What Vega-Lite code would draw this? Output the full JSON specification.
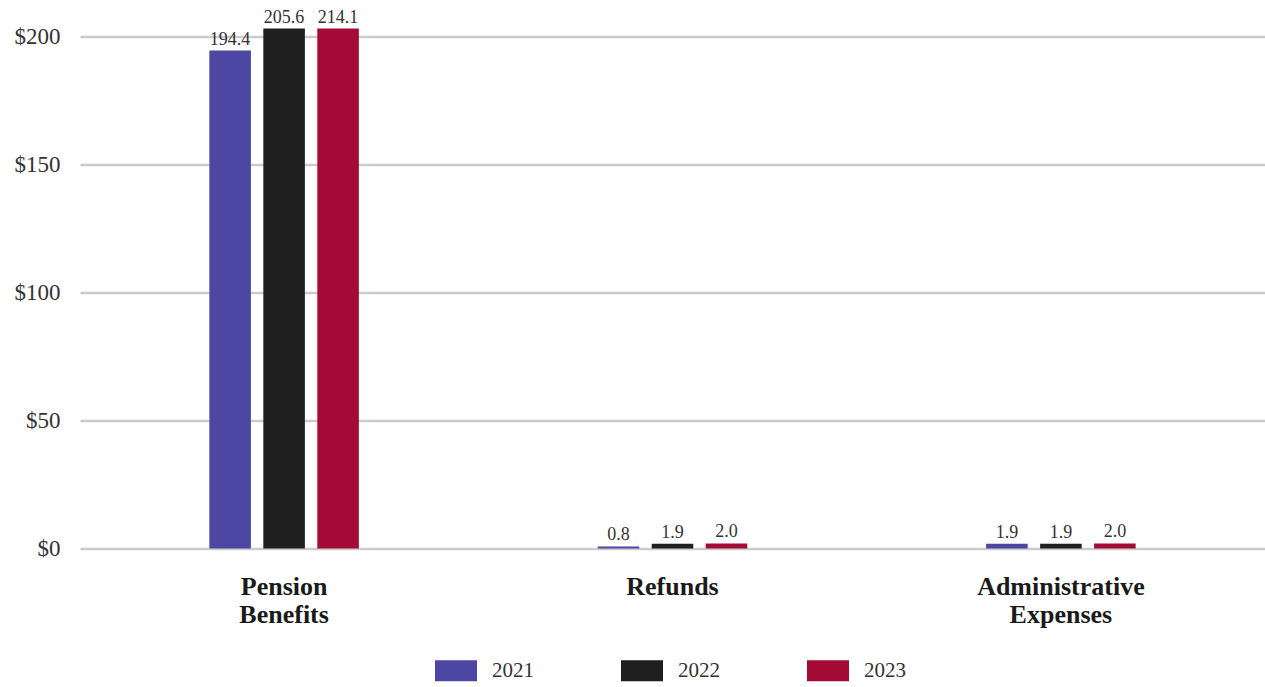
{
  "$schema": "https://vega.github.io/schema/vega-lite/v6.json",
  "autosize": {"type": "none"},
  "width": 1185,
  "height": 520,
  "padding": {"left": 80, "top": 28.5, "right": 0, "bottom": 138.5},
  "background": "white",
  "config": {
    "font": "Liberation Serif",
    "view": {"stroke": null}
  },
  "data": {
    "values": [
      {"category": "Pension Benefits", "year": "2021", "value": 194.4},
      {"category": "Pension Benefits", "year": "2022", "value": 205.6},
      {"category": "Pension Benefits", "year": "2023", "value": 214.1},
      {"category": "Refunds", "year": "2021", "value": 0.8},
      {"category": "Refunds", "year": "2022", "value": 1.9},
      {"category": "Refunds", "year": "2023", "value": 2.0},
      {"category": "Administrative Expenses", "year": "2021", "value": 1.9},
      {"category": "Administrative Expenses", "year": "2022", "value": 1.9},
      {"category": "Administrative Expenses", "year": "2023", "value": 2.0}
    ]
  },
  "encoding": {
    "x": {
      "field": "category",
      "type": "nominal",
      "sort": ["Pension Benefits", "Refunds", "Administrative Expenses"],
      "scale": {"paddingInner": 0.615, "paddingOuter": 0.333},
      "axis": {
        "title": null,
        "domain": false,
        "ticks": false,
        "labelAngle": 0,
        "labelExpr": "split(datum.label, ' ')",
        "labelFont": "Liberation Serif",
        "labelFontSize": 26,
        "labelFontWeight": "bold",
        "labelColor": "#1a1a1a",
        "labelLineHeight": 28,
        "labelPadding": 25,
        "labelBaseline": "top"
      }
    },
    "xOffset": {
      "field": "year",
      "type": "nominal",
      "scale": {"paddingInner": 0.23, "paddingOuter": 0}
    },
    "y": {
      "field": "value",
      "type": "quantitative",
      "scale": {"domain": [0, 203], "nice": false, "clamp": true},
      "axis": {
        "title": null,
        "values": [0, 50, 100, 150, 200],
        "domain": false,
        "ticks": false,
        "labelExpr": "'$' + datum.value",
        "labelFont": "Liberation Serif",
        "labelFontSize": 23,
        "labelColor": "#333333",
        "labelPadding": 20,
        "gridColor": "#cccccc",
        "gridWidth": 2.5
      }
    }
  },
  "layer": [
    {
      "mark": {"type": "bar"},
      "encoding": {
        "color": {
          "field": "year",
          "type": "nominal",
          "scale": {"domain": ["2021", "2022", "2023"], "range": ["#4B47A3", "#1F1F1F", "#A30A36"]},
          "legend": {
            "title": null,
            "orient": "none",
            "direction": "horizontal",
            "legendX": 355,
            "legendY": 621,
            "padding": 0,
            "symbolType": "M-1,-0.5H1V0.5H-1Z",
            "symbolSize": 1764,
            "symbolStrokeWidth": 0,
            "symbolOpacity": 1,
            "labelFont": "Liberation Serif",
            "labelFontSize": 21,
            "labelColor": "#333333",
            "labelOffset": 15,
            "columnPadding": 87
          }
        }
      }
    },
    {
      "mark": {
        "type": "text",
        "baseline": "alphabetic",
        "dy": -6,
        "fontSize": 18,
        "font": "Liberation Serif",
        "color": "#333333"
      },
      "encoding": {
        "text": {"field": "value", "type": "quantitative", "format": ".1f"}
      }
    }
  ]
}
